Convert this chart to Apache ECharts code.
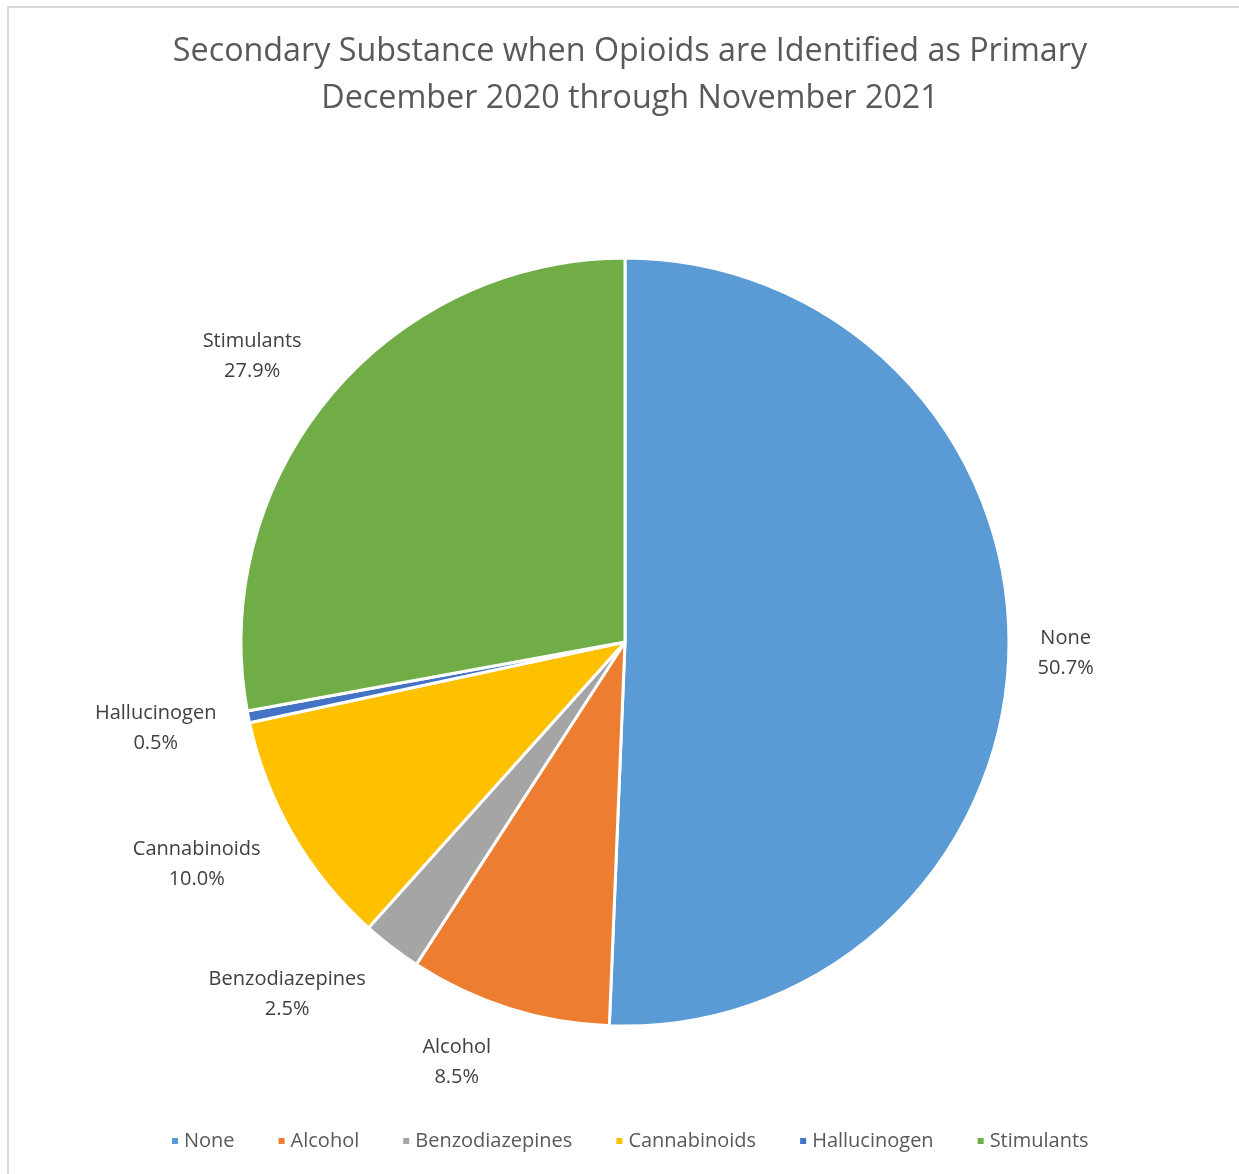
<!DOCTYPE html>
<html>
<head>
<meta charset="utf-8">
<title>Secondary Substance when Opioids are Identified as Primary</title>
<script src="https://cdn.jsdelivr.net/npm/echarts@6/dist/echarts.min.js"></script>
<style>
  html, body { margin: 0; padding: 0; background: #fff; }
  #chart { width: 1239px; height: 1174px; }
</style>
</head>
<body>
<div id="chart"></div>
<script>
// Share of secondary substances (percent) when opioids are the primary substance
const categories = ['None', 'Alcohol', 'Benzodiazepines', 'Cannabinoids', 'Hallucinogen', 'Stimulants'];
const shares = [50.7, 8.5, 2.5, 10.0, 0.5, 27.9];
const colors = ['#5B9BD5', '#ED7D31', '#A5A5A5', '#FFC000', '#4472C4', '#70AD47'];
const titleLines = ['Secondary Substance when Opioids are Identified as Primary', 'December 2020 through November 2021'];

const FONT = '"Open Sans", "Noto Sans", sans-serif';
const CX = 625, CY = 642, R = 384, LABEL_GAP = 28;
// small angular nudges (degrees) that keep the crowded lower-left labels apart
const labelNudge = [0.3, 4.2, 6.4, 2.7, 0.8, -2.4];

// mid-angle of each slice, measured clockwise from 12 o'clock
const total = shares.reduce((a, b) => a + b, 0);
const midAngles = [];
(function () {
  let acc = 0;
  shares.forEach(v => {
    midAngles.push(((acc + v / 2) / total) * 2 * Math.PI);
    acc += v;
  });
})();

const chart = echarts.init(document.getElementById('chart'), null, { renderer: 'canvas' });

chart.setOption({
  backgroundColor: '#ffffff',
  animation: false,
  color: colors,
  graphic: [{
    type: 'rect',
    silent: true,
    shape: { x: 8, y: 7, width: 1300, height: 1300 },
    style: { fill: 'none', stroke: '#d9d9d9', lineWidth: 2 }
  }],
  title: {
    text: titleLines.join('\n'),
    left: 625,
    top: 23,
    textAlign: 'center',
    textStyle: {
      fontFamily: FONT,
      fontSize: 32.3,
      fontWeight: 'normal',
      color: '#595959',
      lineHeight: 47
    }
  },
  legend: {
    data: categories,
    bottom: 18,
    left: 165,
    icon: 'rect',
    itemWidth: 8,
    itemHeight: 8,
    itemGap: 42,
    textStyle: { fontFamily: FONT, fontSize: 20, color: '#595959' }
  },
  series: [{
    type: 'pie',
    center: [CX, CY],
    radius: [0, R],
    startAngle: 90,
    clockwise: true,
    avoidLabelOverlap: false,
    itemStyle: { borderColor: '#ffffff', borderWidth: 3 },
    emphasis: { disabled: true },
    labelLine: { show: false },
    label: {
      show: true,
      position: 'outside',
      fontFamily: FONT,
      fontSize: 20,
      color: '#404040',
      lineHeight: 30,
      align: 'center',
      formatter: p => p.name + '\n' + shares[p.dataIndex].toFixed(1) + '%'
    },
    labelLayout: function (params) {
      const i = params.dataIndex;
      const a = midAngles[i] + labelNudge[i] * Math.PI / 180;
      const ux = Math.sin(a), uy = -Math.cos(a);
      const w = params.labelRect.width, h = params.labelRect.height;
      const t = R + LABEL_GAP + Math.abs(ux) * w / 2 + Math.abs(uy) * h / 2;
      return {
        x: CX + ux * t,
        y: CY + uy * t,
        align: 'center',
        verticalAlign: 'middle'
      };
    },
    data: categories.map((name, i) => ({ name: name, value: shares[i] }))
  }]
});
</script>
</body>
</html>
